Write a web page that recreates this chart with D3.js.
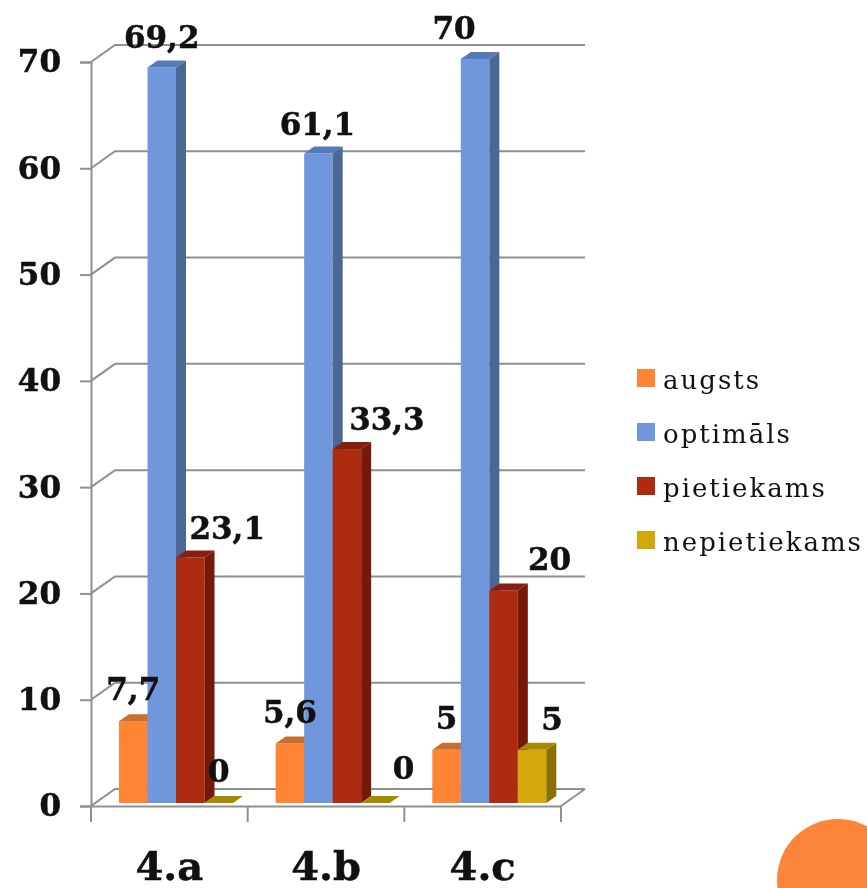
<!DOCTYPE html>
<html>
<head>
<meta charset="utf-8">
<script src="https://cdn.jsdelivr.net/npm/d3@7"></script>
<style>
  html, body { margin: 0; padding: 0; background: #fff; }
  svg { display: block; filter: blur(0.4px); }
  text { font-family: "DejaVu Serif", serif; fill: #111; }
</style>
</head>
<body>
<div id="chart"></div>
<script>
const categories = ["4.a", "4.b", "4.c"]
const seriesNames = ["augsts", "optimāls", "pietiekams", "nepietiekams"]
const augsts = [7.7, 5.6, 5]
const optimals = [69.2, 61.1, 70]
const pietiekams = [23.1, 33.3, 20]
const nepietiekams = [0, 0, 5]
const yTicks = [0, 10, 20, 30, 40, 50, 60, 70]

const seriesValues = [augsts, optimals, pietiekams, nepietiekams]

function drawChart(){
    const config = {
        width: 867, height: 888,
        left: 91, right: 561, top: 62, bottom: 806,
        wallX: 24, wallY: 17,     // back wall shift
        depthX: 10, depthY: 7,    // bar depth
        barLift: 3
    }
    const colors = [
        {front: "#ff8535", side: "#b9622a", top: "#c86e30"},
        {front: "#7097db", side: "#4b6795", top: "#557ab5"},
        {front: "#ae2b12", side: "#75190b", top: "#85200e"},
        {front: "#d2a80b", side: "#8a7005", top: "#a88a00"}
    ]
    // data label shift from the top-centre of the bar, per series then per group
    const labelShift = [
        [[0, -21], [0, -20], [0, -21]],
        [[0, -20], [-1, -19], [-21, -20]],
        [[37, -18], [40, -19], [46, -20]],
        [[0, -21], [28, -24], [20, -20]]
    ]

    const svg = d3.select("#chart").append("svg")
        .attr("width", config.width)
        .attr("height", config.height)

    const y = d3.scaleLinear().domain([0, 70]).range([config.bottom, config.top])
    const x = d3.scaleBand().domain(categories).range([config.left, config.right])
    const xInner = d3.scaleBand().domain(d3.range(seriesNames.length))
        .range([28, 142])

    // walls and floor
    const grid = svg.append("g")
        .attr("fill", "none")
        .attr("stroke", "#8f8f8f")
        .attr("stroke-width", 2)

    yTicks.forEach(t => {
        grid.append("path").attr("d", d3.line()([
            [config.left, y(t)],
            [config.left + config.wallX, y(t) - config.wallY],
            [config.right + config.wallX, y(t) - config.wallY]
        ]))
    })
    grid.append("path").attr("d", d3.line()([
        [config.right + config.wallX, config.bottom - config.wallY],
        [config.right, config.bottom]
    ]))

    // axes
    const yAxis = d3.axisLeft(y).tickValues(yTicks).tickSize(11).tickPadding(19)
    const xAxis = d3.axisBottom(x).tickSize(0).tickPadding(46)

    const gy = svg.append("g")
        .attr("transform", `translate(${config.left},0)`)
        .call(yAxis)
    gy.selectAll("text")
        .attr("font-size", 31).attr("font-weight", "bold")
        .style("font-family", '"DejaVu Serif", serif').style("fill", "#111")
        .style("stroke", "#111").style("stroke-width", 0.5)

    const gx = svg.append("g")
        .attr("transform", `translate(0,${config.bottom})`)
        .call(xAxis)
    gx.selectAll("text")
        .attr("font-size", 40).attr("font-weight", "bold")
        .style("font-family", '"DejaVu Serif", serif').style("fill", "#111")
        .style("stroke", "#111").style("stroke-width", 0.5)

    // boundary ticks between the categories
    gx.selectAll(".bound").data(d3.range(categories.length + 1)).join("line")
        .attr("class", "bound")
        .attr("x1", i => config.left + i * x.bandwidth())
        .attr("x2", i => config.left + i * x.bandwidth())
        .attr("y1", 0).attr("y2", 16)

    svg.selectAll(".domain, .tick line, .bound")
        .attr("stroke", "#8f8f8f")
        .attr("stroke-width", 2)

    // bars
    const barW = xInner.bandwidth()
    const base = config.bottom - config.barLift
    const barH = v => y(0) - y(v)
    const dx = config.depthX, dy = config.depthY

    categories.forEach((cat, c) => {
        const g = svg.append("g")
        seriesValues.forEach((vals, s) => {
            const v = vals[c]
            const x0 = x(cat) + xInner(s)
            const top = base - barH(v)
            if (v > 0) {
                g.append("rect")
                    .attr("x", x0).attr("y", top)
                    .attr("width", barW).attr("height", barH(v))
                    .attr("fill", colors[s].front)
                g.append("path")
                    .attr("fill", colors[s].side)
                    .attr("d", d3.line()([
                        [x0 + barW, top], [x0 + barW + dx, top - dy],
                        [x0 + barW + dx, base - dy], [x0 + barW, base]
                    ]) + "Z")
            }
            g.append("path")
                .attr("fill", colors[s].top)
                .attr("d", d3.line()([
                    [x0, top], [x0 + dx, top - dy],
                    [x0 + barW + dx, top - dy], [x0 + barW, top]
                ]) + "Z")
        })
    })

    // data labels, on top of the bars
    categories.forEach((cat, c) => {
        seriesValues.forEach((vals, s) => {
            const v = vals[c]
            svg.append("text")
                .attr("x", x(cat) + xInner(s) + barW / 2 + labelShift[s][c][0])
                .attr("y", base - barH(v) + labelShift[s][c][1])
                .attr("text-anchor", "middle")
                .attr("font-size", 31)
                .attr("font-weight", "bold")
                .style("stroke", "#111").style("stroke-width", 0.5)
                .text(String(v).replace(".", ","))
        })
    })

    // legend
    const legendY = d3.scalePoint().domain(seriesNames).range([378, 540])
    const legend = svg.append("g")
    seriesNames.forEach((name, i) => {
        legend.append("rect")
            .attr("x", 637).attr("y", legendY(name) - 9)
            .attr("width", 18).attr("height", 18)
            .attr("fill", colors[i].front)
        legend.append("text")
            .attr("x", 663).attr("y", legendY(name) + 11)
            .attr("font-size", 26)
            .style("letter-spacing", "2px")
            .text(name)
    })

    // slide decoration
    svg.append("circle")
        .attr("cx", 838).attr("cy", 880).attr("r", 61)
        .attr("fill", "#fd853a")
}

drawChart()
</script>
</body>
</html>
